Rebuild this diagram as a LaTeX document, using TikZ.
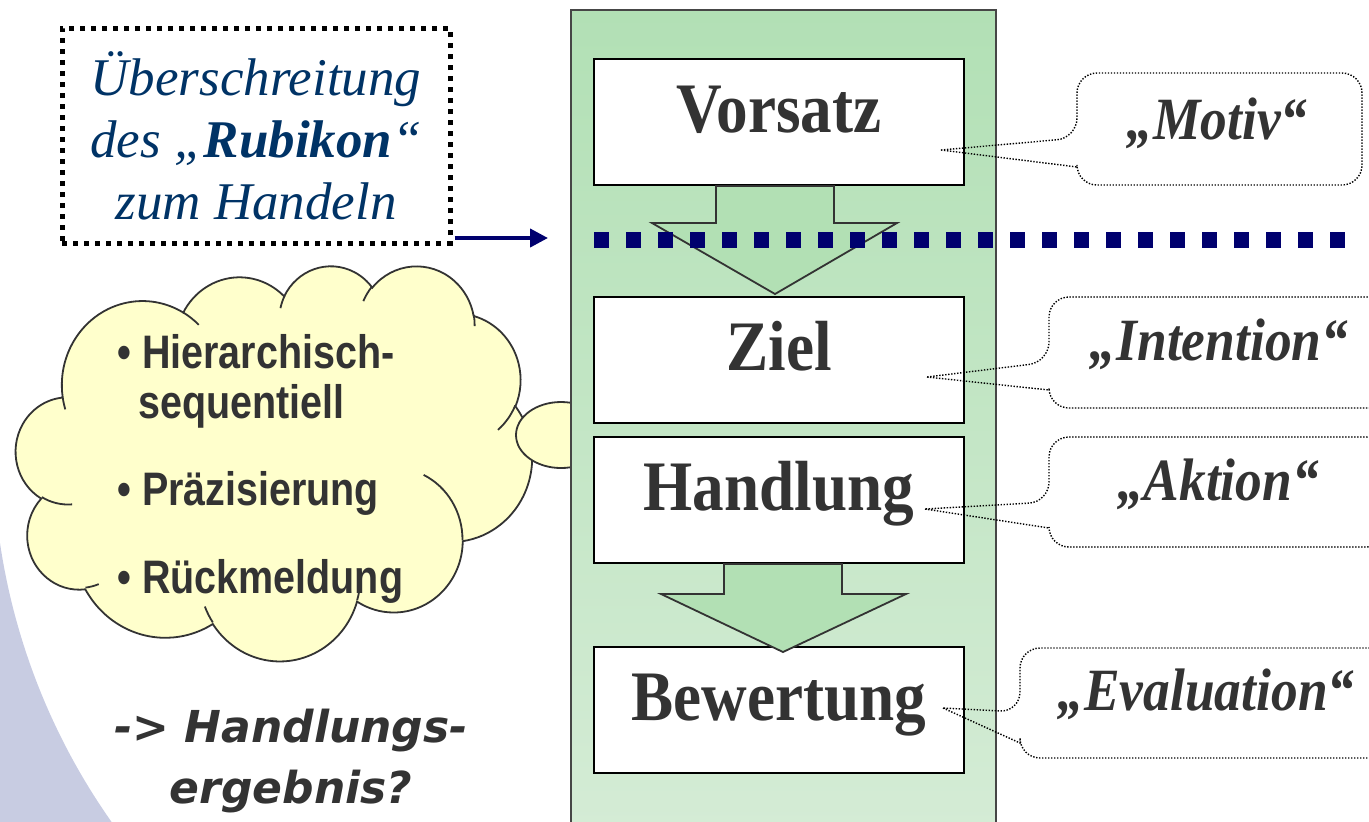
\documentclass[tikz,border=0pt]{standalone}
\usepackage{fontspec}
\usepackage{graphicx}
\setmainfont{Liberation Serif}
\newfontfamily\sansb{Liberation Sans}
\newfontfamily\verd{DejaVu Sans}
\usetikzlibrary{arrows.meta,calc}

\definecolor{ink}{RGB}{51,51,51}
\definecolor{rubiblue}{RGB}{0,51,102}
\definecolor{navy}{RGB}{0,0,110}
\definecolor{colTop}{RGB}{178,224,181}
\definecolor{colBot}{RGB}{213,236,214}
\definecolor{arrowGreen}{RGB}{178,224,180}
\definecolor{cloudYellow}{RGB}{255,255,204}
\definecolor{lavender}{RGB}{200,204,226}

% Elliptic arc of the cloud outline, given as radii and start/sweep angles
% in a 432 x 432 frame with y pointing down (angles measured clockwise).
\newcommand\cloudarc[4]{%
  \pgfmathsetmacro\cldS{atan2(#1*sin(#3),#2*cos(#3))}%
  \pgfmathsetmacro\cldE{atan2(#1*sin(#3+#4),#2*cos(#3+#4))}%
  \pgfmathsetmacro\cldD{-mod((\cldE)-(\cldS)+720,360)}%
  \pgfmathsetmacro\cldA{-1*(\cldS)}%
  \pgfmathsetmacro\cldRx{#1/432*258}%
  \pgfmathsetmacro\cldRy{#2/432*197.5}%
}
\newcommand\carc[4]{\pgfextra{\cloudarc{#1}{#2}{#3}{#4}} arc[start angle=\cldA, delta angle=\cldD, x radius=\cldRx pt, y radius=\cldRy pt]}

\begin{document}
\begin{tikzpicture}[x=0.5pt,y=-0.5pt,
  declare function={cx(\a)=16+\a/432*516; cy(\a)=265+\a/432*395;},
  cloudbody/.style={draw=ink, line width=0.9pt, fill=cloudYellow},
  cloudedge/.style={draw=ink, line width=0.9pt},
  stepbox/.style={draw=black, line width=1pt, fill=white, minimum width=185pt, minimum height=63pt, inner sep=0pt},
  boxlabel/.style={font=\fontsize{35.5}{40}\selectfont\bfseries, text=ink, inner sep=0pt, anchor=base, xscale=0.89},
  blockarrow/.style={draw=ink, line width=0.9pt, fill=arrowGreen, line join=miter},
  calloutline/.style={draw=black, line width=0.7pt, dash pattern=on 0.7pt off 0.8pt},
  callouttext/.style={font=\fontsize{30}{34}\selectfont\bfseries\itshape, text=ink, inner sep=0pt, anchor=base, xscale=0.89},
  bullettext/.style={font=\sansb\bfseries\fontsize{23.5}{26}\selectfont, text=ink, inner sep=0pt, anchor=base west, xscale=0.84},
  resulttext/.style={font=\verd\bfseries\itshape\fontsize{22}{26}\selectfont, text=ink, inner sep=0pt, anchor=base},
  rubibox/.style={draw=black, line width=2.5pt, dash pattern=on 2.5pt off 3pt, minimum width=194pt, minimum height=107.5pt, inner sep=0pt, align=center, font=\fontsize{26.5}{31}\selectfont\itshape, text=rubiblue},
  navyarrow/.style={draw=navy, line width=2pt, -{Triangle[length=9pt,width=9pt]}},
  navydots/.style={draw=navy, line width=8pt, dash pattern=on 7.25pt off 8.75pt}
]
\useasboundingbox (0,0) rectangle (1369,821);

% soft lavender arc in the lower left corner
\fill[lavender] (0,543) arc[start angle=188.42, end angle=216.5, radius=324.5pt] -- (0,840) -- cycle;

% thought cloud
\draw[cloudbody] ({cx(39)},{cy(143.7)})
  \carc{67.53}{91.90}{-190.4875}{123.7805}
  \carc{53.33}{72.67}{-144.1024}{89.9452}
  \carc{43.65}{59.45}{-145.8079}{99.7230}
  \carc{48.57}{65.95}{-130.9861}{117.2417}
  \carc{53.33}{72.73}{-78.7089}{109.0269}
  \carc{67.75}{92.20}{-46.2673}{130.2690}
  \carc{57.85}{78.67}{0.6250}{114.0333}
  \carc{67.52}{92.15}{22.4516}{115.1726}
  \carc{77.20}{105.43}{66.2426}{75.7110}
  \carc{43.60}{59.18}{-274.9421}{146.7356}
  \carc{43.45}{59.45}{-246.8285}{152.5189}
  -- cycle;
\draw[cloudedge]
  ({cx(46.93)},{cy(261.77)}) \carc{43.45}{59.45}{86.7420}{26.4295}
  ({cx(69.28)},{cy(348.99)}) \carc{43.60}{59.18}{73.6105}{11.4475}
  ({cx(164.78)},{cy(390.90)}) \carc{67.52}{92.15}{137.6242}{14.0811}
  ({cx(288.27)},{cy(347.51)}) \carc{67.52}{92.15}{6.4533}{15.9984}
  ({cx(341.29)},{cy(229.54)}) \carc{57.85}{78.67}{-70.2924}{70.9174}
  ({cx(417.98)},{cy(153.54)}) \carc{53.33}{72.73}{30.3180}{27.7515}
  ({cx(383.24)},{cy(54.26)}) \carc{48.57}{65.95}{-13.7443}{14.8589}
  ({cx(290.78)},{cy(39.52)}) \carc{48.57}{65.95}{-149.1815}{18.1954}
  ({cx(221.41)},{cy(47.20)}) \carc{43.65}{59.45}{-163.4943}{17.6864}
  ({cx(140.00)},{cy(51.92)}) \carc{67.53}{91.90}{-66.7070}{12.3194}
  ({cx(41.27)},{cy(157.89)}) \carc{67.53}{91.90}{157.6544}{11.8582};
\draw[cloudbody] (561,435) ellipse [x radius=22.5pt, y radius=16.5pt];

\node[bullettext] (b1) at (117,368) {• Hierarchisch-};
\node[bullettext] (b1b) at (138,418) {sequentiell};
\node[bullettext] (b2) at (117,505) {• Präzisierung};
\node[bullettext] (b3) at (117,593) {• Rückmeldung};

% green column with the four stages
\node[draw={rgb,255:red,70;green,70;blue,70}, line width=1pt, top color=colTop, bottom color=colBot,
      minimum width=212.5pt, minimum height=420pt, inner sep=0pt] (column) at (783.5,430) {};

\node[stepbox] (vorsatz) at (779,122) {};
\node[stepbox] (ziel) at (779,360) {};
\node[stepbox] (handlung) at (779,500) {};
\node[stepbox] (bewertung) at (779,710) {};

\node[boxlabel] (vorsatzT) at ($(vorsatz.center)+(0,10)$) {Vorsatz};
\node[boxlabel] (zielT) at ($(ziel.center)+(0,10)$) {Ziel};
\node[boxlabel] (handlungT) at ($(handlung.center)+(0,10)$) {Handlung};
\node[boxlabel] (bewertungT) at ($(bewertung.center)+(0,10)$) {Bewertung};

\draw[blockarrow] ($(vorsatz.south)+(-63,0)$) -- ++(0,37) -- ++(-64,0)
  -- ($(ziel.north)+(-4,-2)$) -- ($(vorsatz.south)+(118,37)$) -- ++(-63,0) -- ++(0,-37) -- cycle;
\draw[blockarrow] ($(handlung.south)+(-55,0)$) -- ++(0,30) -- ++(-63,0)
  -- ($(bewertung.north)+(4,6)$) -- ($(handlung.south)+(127,30)$) -- ++(-64,0) -- ++(0,-30) -- cycle;

% Rubicon line
\draw[navydots] (594,240) -- (1346,240);

% speech callouts
\coordinate (tipM) at (941,150);
\coordinate (tipI) at (927,377);
\coordinate (tipA) at (925,509);
\coordinate (tipE) at (943,708);
\draw[calloutline] (tipM) -- (1077,167) [rounded corners=10pt] -- (1077,185) -- (1362,185) -- (1362,73) -- (1077,73) -- (1077,138) [sharp corners] -- (tipM);
\draw[calloutline] (tipI) -- (1049,390) [rounded corners=10pt] -- (1049,408) -- (1389,408) -- (1389,297) -- (1049,297) -- (1049,362) [sharp corners] -- (tipI);
\draw[calloutline] (tipA) -- (1049,528) [rounded corners=10pt] -- (1049,547) -- (1387,547) -- (1387,437) -- (1049,437) -- (1049,502) [sharp corners] -- (tipA);
\draw[calloutline] (tipE) -- (1020,743) [rounded corners=10pt] -- (1020,758) -- (1392,758) -- (1392,648) -- (1020,648) -- (1020,712) [sharp corners] -- (tipE);

\node[callouttext] (motiv) at (1217,139) {„Motiv“};
\node[callouttext] (intention) at (1219,360) {„Intention“};
\node[callouttext] (aktion) at (1218,500) {„Aktion“};
\node[callouttext] (evaluation) at (1206,710) {„Evaluation“};

% Rubicon box and its arrow
\node[rubibox] (rubikon) at (256,135.5) {Überschreitung\\des „\textbf{Rubikon}“\\zum Handeln};
\coordinate (crossing) at (548,238);
\draw[navyarrow] ([xshift=1pt]rubikon.east |- crossing) -- (crossing);

% result question
\node[resulttext] (res1) at (291,742) {-> Handlungs-};
\node[resulttext] (res2) at (291,803) {ergebnis?};
\end{tikzpicture}
\end{document}
